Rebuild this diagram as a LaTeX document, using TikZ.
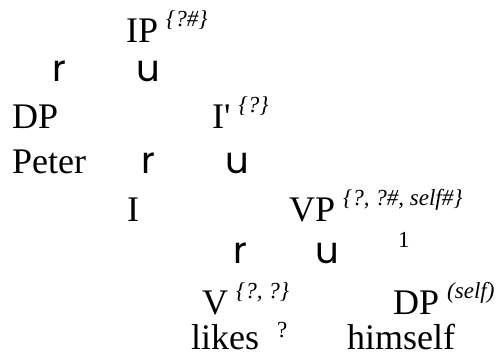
\documentclass[tikz,border=0pt]{standalone}
\usepackage{fontspec}
\setmainfont{Liberation Serif}[Ligatures=TeXOff]
\newfontfamily\branchfont{Poppins}
\newcommand\suptext[1]{\hspace{8pt}\raisebox{16pt}{\fontsize{23}{23}\selectfont\itshape #1}}
\begin{document}
\begin{tikzpicture}[x=1pt,y=-1pt,
  lab/.style={inner sep=0pt, anchor=base west, text depth=0pt, font=\fontsize{36}{40}\selectfont},
  br/.style={inner sep=0pt, anchor=base west, text depth=0pt, font=\fontsize{37}{40}\selectfont\branchfont},
  idx/.style={inner sep=0pt, anchor=base west, text depth=0pt, font=\fontsize{23}{23}\selectfont}]
\useasboundingbox (0,0) rectangle (504,358);
% row 1
\node[lab] (ip) at (126,43) {IP\suptext{\{?\#\}}};
% row 2
\node[br] (ipl) at (52,82) {r};
\node[br] (ipr) at (136,82) {u};
% row 3
\node[lab] (dpa) at (12,129) {DP};
\node[lab] (ibar) at (212,129) {I'\suptext{\{?\}}};
% row 4
\node[lab] (peter) at (12,174) {Peter};
\node[br] (ibl) at (141,174) {r};
\node[br] (ibr) at (225,174) {u};
% row 5
\node[lab] (i) at (127,222) {I};
\node[lab] (vp) at (289,222) {VP\suptext{\{?, ?\#, self\#\}}};
% row 6
\node[br] (vpl) at (233,264) {r};
\node[br] (vpr) at (315,264) {u};
\node[idx] (one) at (398,248) {1};
% row 7
\node[lab] (v) at (202,315) {V\suptext{\{?, ?\}}};
\node[lab] (dpb) at (393,315) {DP\suptext{(self)}};
% row 8
\node[lab] (likes) at (191,350) {likes};
\node[idx] (q) at (277,338) {?};
\node[lab] (himself) at (347,350) {himself};
\end{tikzpicture}
\end{document}
